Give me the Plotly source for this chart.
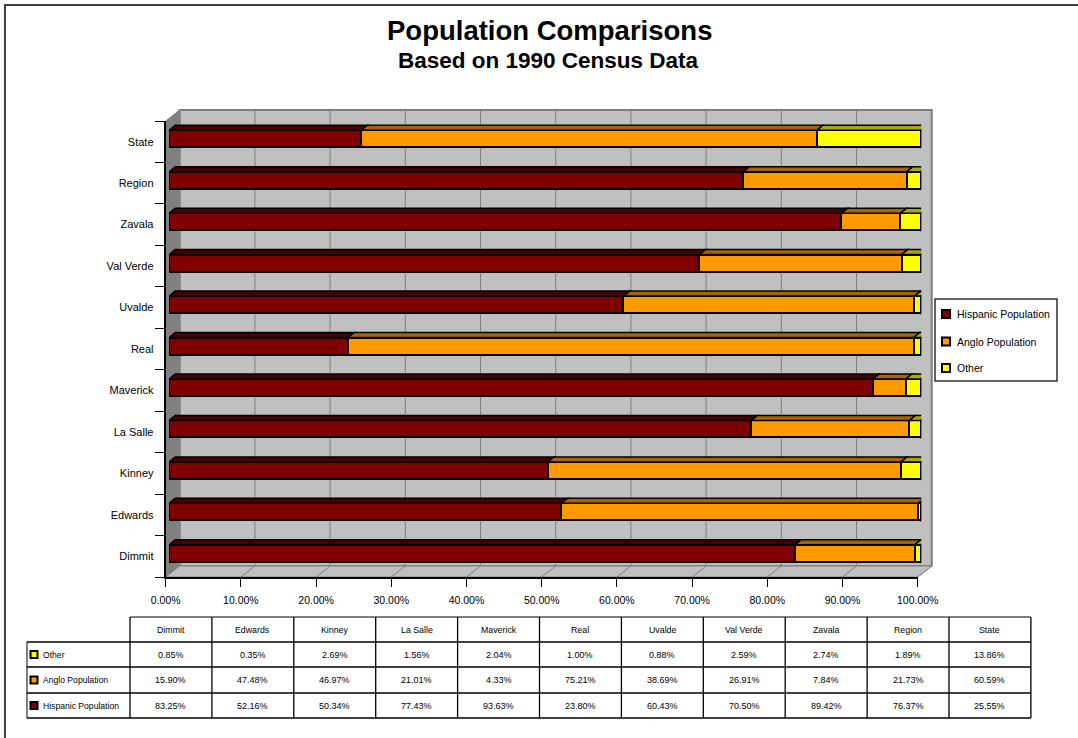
import plotly.graph_objects as go

W, H = 1078, 738

# ---- data -------------------------------------------------------------
categories = ["Dimmit", "Edwards", "Kinney", "La Salle", "Maverick", "Real",
              "Uvalde", "Val Verde", "Zavala", "Region", "State"]
hispanic = [83.25, 52.16, 50.34, 77.43, 93.63, 23.80, 60.43, 70.50, 89.42, 76.37, 25.55]
anglo = [15.90, 47.48, 46.97, 21.01, 4.33, 75.21, 38.69, 26.91, 7.84, 21.73, 60.59]
other = [0.85, 0.35, 2.69, 1.56, 2.04, 1.00, 0.88, 2.59, 2.74, 1.89, 13.86]
series_names = ["Hispanic Population", "Anglo Population", "Other"]
x_tick_values = [0, 10, 20, 30, 40, 50, 60, 70, 80, 90, 100]
x_tick_labels = ["0.00%", "10.00%", "20.00%", "30.00%", "40.00%", "50.00%",
                 "60.00%", "70.00%", "80.00%", "90.00%", "100.00%"]

# ---- styling ----------------------------------------------------------
FACE = ["#800000", "#FF9900", "#FFFF00"]
TOP = ["#4a0000", "#a86400", "#a8a800"]
SIDE = ["#3a0000", "#7a4a00", "#808000"]
LABEL_FONT = "Liberation Sans, Arial, sans-serif"
TITLE_FONT = "Liberation Sans, Arial, sans-serif"

# front plane of the 3-D plot box (pixels)
FL, FR, FT, FB = 165.7, 917.7, 121.0, 577.0
DX, DY = 14.0, 11.0          # depth of the box
BAR_SHIFT = 3.5              # bars sit a little behind the front plane
BAR_DX, BAR_DY = 6.0, 5.0    # bar depth


def px(x):
    return x / W


def py(y):
    return 1 - y / H


fig = go.Figure()

series = [hispanic, anglo, other]
ypos = list(range(len(categories)))
BAR_W = 0.41
BAR_OFF = -0.133
for name, vals, col in zip(series_names, series, FACE):
    fig.add_trace(go.Bar(
        y=ypos, x=vals, orientation="h", name=name,
        marker=dict(color=col, line=dict(color="black", width=2)),
        width=BAR_W, offset=BAR_OFF, xaxis="x", yaxis="y",
        hoverinfo="x+name", showlegend=False,
    ))

# empty traces so the tick/label axes get their own subplots
fig.add_trace(go.Scatter(x=[None], y=[None], xaxis="x2", yaxis="y",
                         showlegend=False, hoverinfo="skip"))
fig.add_trace(go.Scatter(x=[None], y=[None], xaxis="x2", yaxis="y2",
                         showlegend=False, hoverinfo="skip"))

shapes = []

# walls and floor of the plot box
bl, br = FL + DX, FR + DX
bt, bb = FT - DY, FB - DY
shapes.append(dict(type="rect", xref="paper", yref="paper", layer="below",
                   x0=px(bl), x1=px(br), y0=py(bb), y1=py(bt),
                   fillcolor="#C0C0C0", line=dict(color="#808080", width=2)))
shapes.append(dict(type="path", xref="paper", yref="paper", layer="below",
                   path=f"M{px(FL)},{py(FB)} L{px(bl)},{py(bb)} L{px(bl)},{py(bt)} L{px(FL)},{py(FT)} Z",
                   fillcolor="#808080", line=dict(color="#808080", width=1)))
shapes.append(dict(type="path", xref="paper", yref="paper", layer="below",
                   path=f"M{px(FL)},{py(FB)} L{px(FR)},{py(FB)} L{px(br)},{py(bb)} L{px(bl)},{py(bb)} Z",
                   fillcolor="#C0C0C0", line=dict(color="#808080", width=1)))
step = (FR - FL) / 100.0
for v in x_tick_values[1:]:
    xf = FL + v * step
    shapes.append(dict(type="line", xref="paper", yref="paper", layer="below",
                       x0=px(xf + DX), x1=px(xf + DX), y0=py(bb), y1=py(bt),
                       line=dict(color="#808080", width=1)))
    shapes.append(dict(type="line", xref="paper", yref="paper", layer="below",
                       x0=px(xf), x1=px(xf + DX), y0=py(FB), y1=py(bb),
                       line=dict(color="#808080", width=1)))

# 3-D faces of the bars, in the bar axes' data units
ux = BAR_DX * 100.0 / (FR - FL)
uy = BAR_DY * 11.0 / (FB - FT)
for i in ypos:
    start = 0.0
    y_lo = i + BAR_OFF
    y_hi = i + BAR_OFF + BAR_W
    for k, vals in enumerate(series):
        end = start + vals[i]
        shapes.append(dict(type="path", xref="x", yref="y", layer="above",
                           path=(f"M{start},{y_hi} L{end},{y_hi} L{end + ux},{y_hi + uy} "
                                 f"L{start + ux},{y_hi + uy} Z"),
                           fillcolor=TOP[k], line=dict(color="black", width=1.5)))
        start = end
    shapes.append(dict(type="path", xref="x", yref="y", layer="above",
                       path=(f"M{start},{y_lo} L{start},{y_hi} L{start + ux},{y_hi + uy} "
                             f"L{start + ux},{y_lo + uy} Z"),
                       fillcolor=SIDE[2], line=dict(color="black", width=1.5)))

# outer chart frame
shapes.append(dict(type="rect", xref="paper", yref="paper", layer="below",
                   x0=px(5), x1=px(1100), y0=py(760), y1=py(5),
                   line=dict(color="#404040", width=2)))

annotations = []

# ---- legend box ---------------------------------------------------------
shapes.append(dict(type="rect", xref="paper", yref="paper",
                   x0=px(935), x1=px(1057), y0=py(381), y1=py(299),
                   fillcolor="white", line=dict(color="#303030", width=1.5)))
for k, (name, yc) in enumerate(zip(series_names, [314, 341.5, 368])):
    shapes.append(dict(type="rect", xref="paper", yref="paper",
                       x0=px(942), x1=px(950), y0=py(yc + 4), y1=py(yc - 4),
                       fillcolor=FACE[k], line=dict(color="black", width=2)))
    annotations.append(dict(xref="paper", yref="paper", x=px(954.5), y=py(yc),
                            text=name, showarrow=False,
                            font=dict(family=LABEL_FONT, size=10.5, color="black"),
                            xanchor="left", yanchor="middle"))

# ---- data table -------------------------------------------------------
T_TOP, ROWS = 617.0, [642.0, 667.0, 693.0, 718.0]
C0, CW, LBL = 130.0, 81.9, 27.0
ncol = len(categories)
CR = C0 + CW * ncol
shapes.append(dict(type="line", xref="paper", yref="paper",
                   x0=px(C0), x1=px(CR), y0=py(T_TOP), y1=py(T_TOP),
                   line=dict(color="black", width=1)))
for r in ROWS:
    shapes.append(dict(type="line", xref="paper", yref="paper",
                       x0=px(LBL), x1=px(CR), y0=py(r), y1=py(r),
                       line=dict(color="black", width=1.3)))
shapes.append(dict(type="line", xref="paper", yref="paper",
                   x0=px(LBL), x1=px(LBL), y0=py(ROWS[0]), y1=py(ROWS[-1]),
                   line=dict(color="black", width=1)))
for k in range(ncol + 1):
    xx = C0 + CW * k
    shapes.append(dict(type="line", xref="paper", yref="paper",
                       x0=px(xx), x1=px(xx), y0=py(T_TOP), y1=py(ROWS[-1]),
                       line=dict(color="black", width=1.3)))

for k, cat in enumerate(categories):
    annotations.append(dict(xref="paper", yref="paper", x=px(C0 + CW * (k + 0.5)),
                            y=py((T_TOP + ROWS[0]) / 2), text=cat, showarrow=False,
                            font=dict(family=LABEL_FONT, size=8.8, color="black"),
                            xanchor="center", yanchor="middle"))

table_rows = [("Other", other, 2), ("Anglo Population", anglo, 1),
              ("Hispanic Population", hispanic, 0)]
bounds = [T_TOP] + ROWS
for r, (label, vals, ci) in enumerate(table_rows):
    yc = (bounds[r + 1] + bounds[r + 2]) / 2
    shapes.append(dict(type="rect", xref="paper", yref="paper",
                       x0=px(30.5), x1=px(37.5), y0=py(yc + 3.5), y1=py(yc - 3.5),
                       fillcolor=FACE[ci], line=dict(color="black", width=2)))
    annotations.append(dict(xref="paper", yref="paper", x=px(41), y=py(yc),
                            text=label, showarrow=False,
                            font=dict(family=LABEL_FONT, size=8.6, color="black"),
                            xanchor="left", yanchor="middle"))
    for k, v in enumerate(vals):
        annotations.append(dict(xref="paper", yref="paper", x=px(C0 + CW * (k + 0.5)),
                                y=py(yc), text=f"{v:.2f}%", showarrow=False,
                                font=dict(family=LABEL_FONT, size=9, color="black"),
                                xanchor="center", yanchor="middle"))

# ---- titles -----------------------------------------------------------
annotations.append(dict(xref="paper", yref="paper", x=px(549), y=py(30),
                        text="<b>Population Comparisons</b>", showarrow=False,
                        font=dict(family=TITLE_FONT, size=27.5, color="black"),
                        xanchor="center", yanchor="middle"))
annotations.append(dict(xref="paper", yref="paper", x=px(548), y=py(60),
                        text="<b>Based on 1990 Census Data</b>", showarrow=False,
                        font=dict(family=TITLE_FONT, size=22.5, color="black"),
                        xanchor="center", yanchor="middle"))

fig.update_layout(
    width=W, height=H,
    margin=dict(l=0, r=0, t=0, b=0, autoexpand=False),
    paper_bgcolor="white", plot_bgcolor="rgba(0,0,0,0)",
    barmode="stack", bargap=0,
    showlegend=False,
    xaxis=dict(domain=[px(FL + BAR_SHIFT), px(FR + BAR_SHIFT)], range=[0, 100],
               visible=False, anchor="y", fixedrange=True),
    yaxis=dict(domain=[py(FB), py(FT)], range=[-0.5, 10.5], anchor="x2",
               tickmode="array", tickvals=[i - 0.5 for i in range(12)],
               ticks="outside", ticklen=9, tickcolor="black", tickwidth=1,
               showticklabels=False, showline=True, linecolor="black", linewidth=1.5,
               showgrid=False, zeroline=False, fixedrange=True),
    xaxis2=dict(domain=[px(FL), px(FR)], range=[0, 100], anchor="y",
                tickmode="array", tickvals=x_tick_values, ticktext=x_tick_labels,
                ticks="outside", ticklen=8, tickcolor="black", tickwidth=1,
                ticklabelstandoff=5,
                showline=True, linecolor="black", linewidth=1.5,
                showgrid=False, zeroline=False, fixedrange=True,
                tickfont=dict(family=LABEL_FONT, size=10.5, color="black")),
    yaxis2=dict(domain=[py(FB), py(FT)], range=[-0.5, 10.5], anchor="x2",
                tickmode="array", tickvals=ypos, ticktext=categories,
                ticks="outside", ticklen=9, tickcolor="rgba(0,0,0,0)",
                showline=False, showgrid=False, zeroline=False, fixedrange=True,
                tickfont=dict(family=LABEL_FONT, size=11, color="black")),
    shapes=shapes,
    annotations=annotations,
)

fig.write_html("out.html")
